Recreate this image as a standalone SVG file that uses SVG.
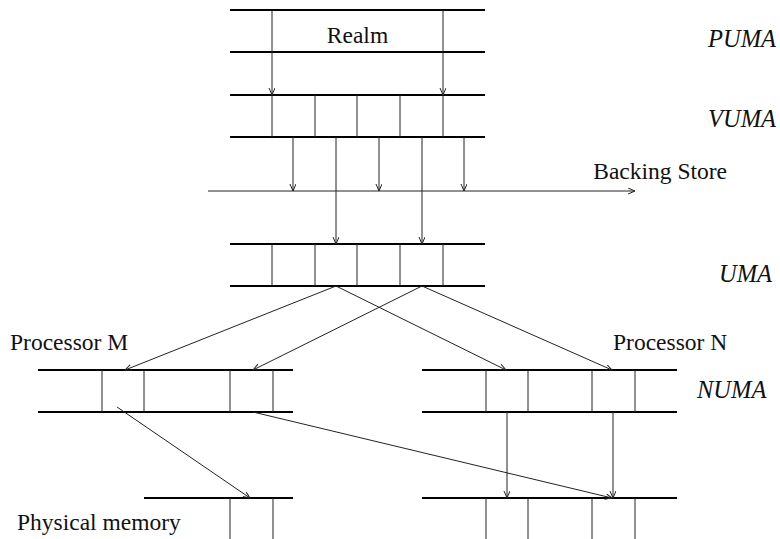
<svg xmlns="http://www.w3.org/2000/svg" width="780" height="539" viewBox="0 0 780 539">
  <style>
    .bar { stroke: #000; stroke-width: 2; fill: none; }
    .cell { stroke: #222; stroke-width: 1; fill: none; }
    .link { stroke: #222; stroke-width: 1; fill: none; marker-end: url(#tip); }
    text { font-family: 'Liberation Serif', 'Times New Roman', serif; fill: #111; }
    .lbl { font-size: 23.5px; }
    .lvl { font-size: 24.5px; font-style: italic; }
  </style>
  <defs>
    <marker id="tip" markerUnits="userSpaceOnUse" markerWidth="10" markerHeight="8" refX="7" refY="3" orient="auto">
      <path d="M0,0 L7,3 L0,6" fill="none" stroke="#222" stroke-width="1"/>
    </marker>
  </defs>

  <!-- PUMA: realm band -->
  <g id="puma">
    <line class="bar" x1="230" y1="10" x2="485" y2="10"/>
    <line class="bar" x1="230" y1="52" x2="485" y2="52"/>
    <text class="lbl" x="357.5" y="43" text-anchor="middle">Realm</text>
  </g>

  <!-- VUMA -->
  <g id="vuma">
    <line class="bar" x1="230" y1="95" x2="485" y2="95"/>
    <line class="bar" x1="230" y1="137" x2="485" y2="137"/>
    <line class="cell" x1="272" y1="95" x2="272" y2="137"/>
    <line class="cell" x1="315" y1="95" x2="315" y2="137"/>
    <line class="cell" x1="357" y1="95" x2="357" y2="137"/>
    <line class="cell" x1="400" y1="95" x2="400" y2="137"/>
    <line class="cell" x1="443" y1="95" x2="443" y2="137"/>
  </g>

  <!-- UMA -->
  <g id="uma">
    <line class="bar" x1="230" y1="244" x2="485" y2="244"/>
    <line class="bar" x1="230" y1="286" x2="485" y2="286"/>
    <line class="cell" x1="272" y1="244" x2="272" y2="286"/>
    <line class="cell" x1="315" y1="244" x2="315" y2="286"/>
    <line class="cell" x1="357" y1="244" x2="357" y2="286"/>
    <line class="cell" x1="400" y1="244" x2="400" y2="286"/>
    <line class="cell" x1="443" y1="244" x2="443" y2="286"/>
  </g>

  <!-- NUMA, processor M -->
  <g id="numa-m">
    <line class="bar" x1="38" y1="370" x2="293" y2="370"/>
    <line class="bar" x1="38" y1="412" x2="293" y2="412"/>
    <line class="cell" x1="102" y1="370" x2="102" y2="412"/>
    <line class="cell" x1="144" y1="370" x2="144" y2="412"/>
    <line class="cell" x1="230" y1="370" x2="230" y2="412"/>
    <line class="cell" x1="273" y1="370" x2="273" y2="412"/>
    <text class="lbl" x="10" y="350">Processor M</text>
  </g>

  <!-- NUMA, processor N -->
  <g id="numa-n">
    <line class="bar" x1="422" y1="370" x2="677" y2="370"/>
    <line class="bar" x1="422" y1="412" x2="677" y2="412"/>
    <line class="cell" x1="486" y1="370" x2="486" y2="412"/>
    <line class="cell" x1="528" y1="370" x2="528" y2="412"/>
    <line class="cell" x1="592" y1="370" x2="592" y2="412"/>
    <line class="cell" x1="635" y1="370" x2="635" y2="412"/>
    <text class="lbl" x="613" y="350">Processor N</text>
  </g>

  <!-- Physical memory, node M -->
  <g id="phys-m">
    <line class="bar" x1="144" y1="498" x2="293" y2="498"/>
    <line class="cell" x1="230" y1="498" x2="230" y2="539"/>
    <line class="cell" x1="273" y1="498" x2="273" y2="539"/>
    <text class="lbl" x="17" y="530">Physical memory</text>
  </g>

  <!-- Physical memory, node N -->
  <g id="phys-n">
    <line class="bar" x1="422" y1="498" x2="677" y2="498"/>
    <line class="cell" x1="486" y1="498" x2="486" y2="539"/>
    <line class="cell" x1="528" y1="498" x2="528" y2="539"/>
    <line class="cell" x1="592" y1="498" x2="592" y2="539"/>
    <line class="cell" x1="635" y1="498" x2="635" y2="539"/>
  </g>

  <!-- Backing store axis -->
  <g id="backing-store">
    <line class="link" x1="208" y1="191" x2="635" y2="191"/>
    <text class="lbl" x="727" y="179" text-anchor="end">Backing Store</text>
  </g>

  <!-- Level names -->
  <g id="levels">
    <text class="lvl" x="708" y="47">PUMA</text>
    <text class="lvl" x="708" y="127">VUMA</text>
    <text class="lvl" x="719" y="282">UMA</text>
    <text class="lvl" x="697" y="398">NUMA</text>
  </g>

  <!-- Mappings between levels -->
  <g id="connectors">
    <line class="link" x1="272" y1="10" x2="272" y2="95"/>
    <line class="link" x1="443" y1="10" x2="443" y2="95"/>
    <line class="link" x1="293" y1="137" x2="293" y2="191"/>
    <line class="link" x1="379" y1="137" x2="379" y2="191"/>
    <line class="link" x1="464" y1="137" x2="464" y2="191"/>
    <line class="link" x1="336" y1="137" x2="336" y2="244"/>
    <line class="link" x1="422" y1="137" x2="422" y2="244"/>
    <line class="link" x1="336" y1="286" x2="125" y2="370"/>
    <line class="link" x1="336" y1="286" x2="506" y2="370"/>
    <line class="link" x1="422" y1="286" x2="253" y2="370"/>
    <line class="link" x1="422" y1="286" x2="612" y2="370"/>
    <line class="link" x1="117" y1="407" x2="250" y2="498"/>
    <line class="link" x1="253" y1="412" x2="612" y2="498"/>
    <line class="link" x1="507" y1="412" x2="507" y2="498"/>
    <line class="link" x1="613" y1="412" x2="613" y2="498"/>
  </g>
</svg>
